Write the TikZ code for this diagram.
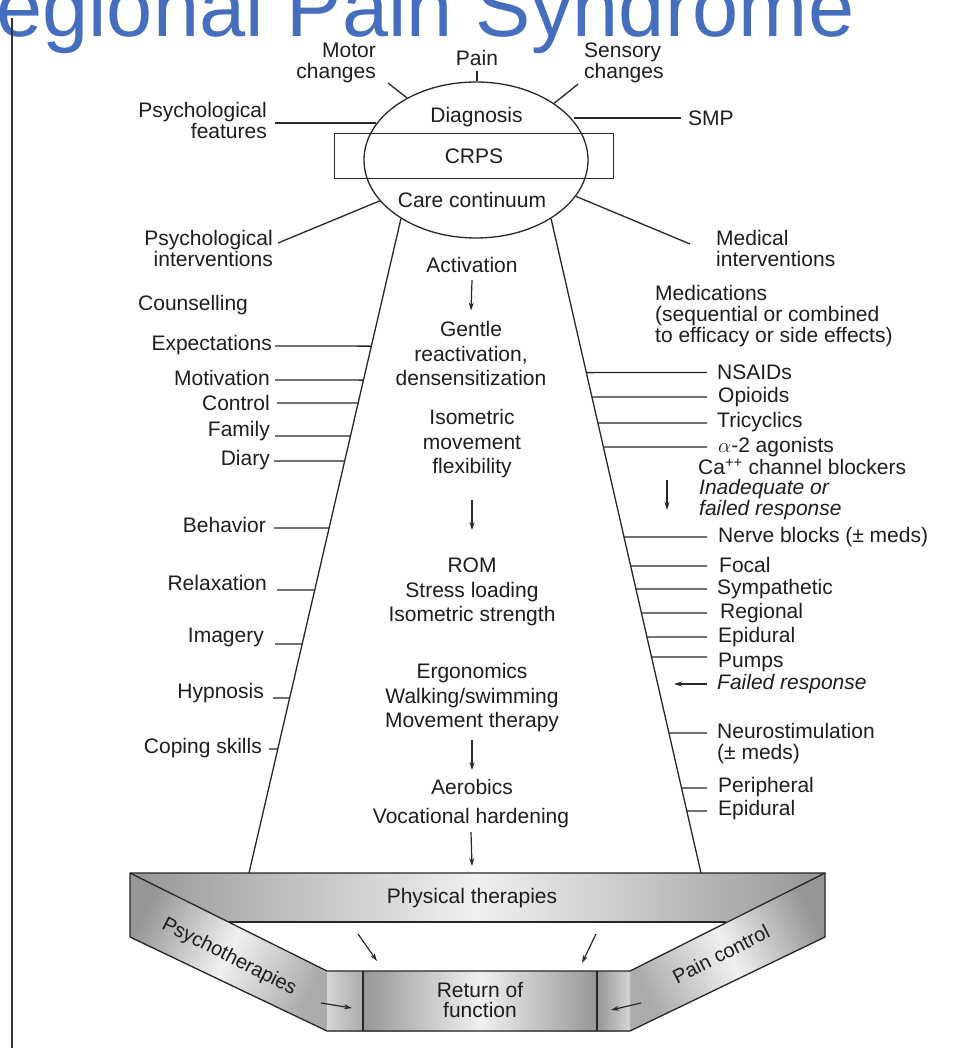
\documentclass[tikz,border=0pt]{standalone}
\usepackage{fontspec}
\setmainfont{Liberation Sans}
\usetikzlibrary{calc,shapes.geometric,arrows.meta}
\definecolor{txt}{RGB}{30,30,30}
\definecolor{ln}{RGB}{40,40,40}
\definecolor{titleblue}{RGB}{70,110,190}
\definecolor{bandD}{RGB}{150,150,150}
\definecolor{bandL}{RGB}{240,240,240}
\begin{document}
\begin{tikzpicture}[x=1pt,y=-1pt,
  lbl/.style={inner sep=0pt, text=txt, font=\fontsize{21}{21}\selectfont},
  lblL/.style={lbl, align=left},
  lblR/.style={lbl, align=right},
  ctr/.style={lbl, align=center, font=\fontsize{21}{24.5}\selectfont},
  tick/.style={draw=ln, line width=1.3pt},
  arr/.style={draw=ln, line width=1.2pt, -{Stealth[length=8pt,width=5pt]}},
  edge/.style={draw=black!85, line width=1.3pt, line join=round}]
\useasboundingbox (0,0) rectangle (979,1048);
\clip (0,0) rectangle (979,1048);
\fill[white] (0,0) rectangle (979,1048);

% title (cropped)
\node[anchor=base west, inner sep=0pt, text=titleblue, font=\fontsize{83}{83}\selectfont] (title) at (-4,37) {egional Pain Syndrome};
\coordinate (vtop) at (12,18);
\coordinate (vbot) at (12,1048);
\draw[line width=2pt, draw=black!80] (vtop) -- (vbot);

% ellipse and CRPS box
\node[ellipse, draw=ln, line width=1.3pt, minimum width=224pt, minimum height=156pt, inner sep=0pt] (ell) at (476,160) {};
\node[lbl, draw=ln, line width=1.3pt, minimum width=279pt, minimum height=45pt] (crps) at (474,156) {CRPS};
\node[lbl] (diag) at (476.5,117) {Diagnosis};
\node[lbl] (care) at (472,200) {Care continuum};

% top labels
\node[lblR, anchor=east] (motor) at (376,63) {Motor\\changes};
\node[lbl] (pain) at (477,58) {Pain};
\node[lblL, anchor=west] (sens) at (584,63) {Sensory\\changes};
\node[lblR, anchor=east] (pf) at (267,120) {Psychological\\features};
\node[lbl, anchor=west] (smp) at (688,118) {SMP};
\node[lblR, anchor=east] (pi) at (273,248) {Psychological\\interventions};
\node[lblL, anchor=west] (mi) at (716,248) {Medical\\interventions};
\node[lbl, anchor=west] (couns) at (138,305) {Counselling};
\node[lblL, anchor=west] (med) at (655,316) {Medications\\(sequential or combined\\to efficacy or side effects)};

\draw[tick] ($(motor.south east)+(12,0)$) -- (ell.138);
\draw[tick] ($(pain.south)+(0,5)$) -- (pain.south |- ell.north);
\draw[tick] ($(sens.south west)+(-6,1)$) -- (ell.36);
\coordinate (pfs) at ($(pf.east)+(8,3)$);
\draw[tick] (pfs) -- (pfs -| ell.160);
\coordinate (smps) at ($(smp.west)+(-7,0)$);
\draw[tick] (smps) -- (smps -| ell.22);
\draw[tick] ($(pi.east)+(5,-5)$) -- (ell.203);
\draw[tick] (ell.-20) -- ($(mi.west)+(-26,-4)$);

% sides of the funnel
\coordinate (BL) at (249,873);
\coordinate (BR) at (701,873);
\coordinate (TL) at (ell.218);
\coordinate (TR) at (ell.-38);
\draw[tick] (TL) -- (BL);
\draw[tick] (TR) -- (BR);

% left labels
\foreach \n/\t/\tx/\ty/\lx/\ly in {
  exp/Expectations/272/345/275/346,
  mot/Motivation/270/378/275/380,
  con/Control/270/403/277/403,
  fam/Family/270/431/275/436,
  dia/Diary/270/460/274/461,
  beh/Behavior/266/525/274/528,
  rel/Relaxation/267/583/277/590,
  ima/Imagery/264/637/275/644,
  hyp/Hypnosis/264/693/273/698,
  cop/Coping skills/262/748/269/749}{
  \node[lbl, anchor=east] (\n) at (\tx,\ty) {\t};
  \draw[tick] ($(\n.east)+(\lx-\tx,\ly-\ty)$) -- ($(TL)!{(\ly-218.5)/654.5}!(BL)$);
}

% right labels
\foreach \n/\t/\tx/\ty/\ly in {
  nsa/NSAIDs/717/372/372.5,
  opi/Opioids/718/397/397,
  tri/Tricyclics/717/422/423,
  alp/{$\alpha$-2 agonists}/718/447/447,
  ner/Nerve blocks (± meds)/718/537/537,
  foc/Focal/719/565/566,
  sym/Sympathetic/717/589/589,
  reg/Regional/720/613/613,
  epi/Epidural/718/637/637,
  pum/Pumps/718/662/657,
  per/Peripheral/718/787/788,
  epd/Epidural/718/810/811}{
  \node[lbl, anchor=west] (\n) at (\tx,\ty) {\t};
  \draw[tick] ($(TR)!{(\ly-218.5)/654.5}!(BR)$) -- ($(\n.west)+(707-\tx,\ly-\ty)$);
}
\node[lbl, anchor=west] (ca) at (698,467) {Ca\textsuperscript{++} channel blockers};
\node[lblL, anchor=west, font=\fontsize{21}{21}\selectfont\itshape] (inad) at (699,500) {Inadequate or\\failed response};
\draw[arr] ($(inad.west)+(-32,-20)$) -- ($(inad.west)+(-32,10)$);
\node[lbl, anchor=west, font=\fontsize{21}{21}\selectfont\itshape] (fail) at (717,684) {Failed response};
\draw[arr] ($(fail.west)+(-10,0)$) -- ($(fail.west)+(-43,0)$);
\node[lblL, anchor=west] (neuro) at (717,744) {Neurostimulation\\(± meds)};
\draw[tick] ($(TR)!{(733-218.5)/654.5}!(BR)$) -- ($(neuro.west)+(-10,-11)$);

% centre column
\node[ctr] (act) at (472,265) {Activation};
\node[ctr] (gen) at (471,353.5) {Gentle\\reactivation,\\densensitization};
\node[ctr] (iso) at (472,444) {Isometric\\movement\\flexibility};
\node[ctr] (rom) at (472,592) {ROM\\Stress loading\\Isometric strength};
\node[ctr] (erg) at (472,698) {Ergonomics\\Walking/swimming\\Movement therapy};
\node[ctr] (aer) at (472,787) {Aerobics};
\node[ctr] (voc) at (471,818) {Vocational hardening};

% bottom band
\coordinate (b1) at (130,873);
\coordinate (b2) at (825,873);
\coordinate (b3) at (726,922);
\coordinate (b4) at (229,922);
\coordinate (a1) at (327,971);
\coordinate (a2) at (327,1031);
\coordinate (a3) at (130,937);
\coordinate (c1) at (825,937);
\coordinate (c2) at (630,1031);
\coordinate (c3) at (630,971);
\coordinate (r1) at (363,971);
\coordinate (r2) at (597,971);
\coordinate (r3) at (597,1031);
\coordinate (r4) at (363,1031);
\shade[left color=bandD, right color=bandD, middle color=bandL] (b1) -- (b2) -- (b3) -- (b4) -- cycle;
\shade[left color=bandD, right color=bandD!80, middle color=bandL, shading angle=63] (b1) -- (a1) -- (a2) -- (a3) -- cycle;
\shade[left color=bandD!80, right color=bandD, middle color=bandL, shading angle=117] (b2) -- (c1) -- (c2) -- (c3) -- cycle;
\shade[left color=bandL!70!bandD, right color=bandD!80] (a1) -- (r1) -- (r4) -- (a2) -- cycle;
\shade[left color=bandD, right color=bandL!70!bandD] (r2) -- (c3) -- (c2) -- (r3) -- cycle;
\shade[left color=bandD, right color=bandD, middle color=bandL] (r1) -- (r2) -- (r3) -- (r4) -- cycle;
\draw[edge] (b1) -- (b2) -- (c1) -- (c2) -- (a2) -- (a3) -- cycle;
\draw[edge] (b1) -- (a1) -- (c3) -- (b2);
\draw[edge] (b4) -- (b3);
\draw[edge] (r1) -- (r4);
\draw[edge] (r2) -- (r3);

\node[lbl] (phys) at (472,898) {Physical therapies};
\node[lbl, align=center, font=\fontsize{21}{20}\selectfont] (ret) at (480,1000) {Return of\\function};
\node[lbl, rotate=-27, font=\fontsize{20}{20}\selectfont] (psy) at (229,957) {Psychotherapies};
\node[lbl, rotate=27, font=\fontsize{20}{20}\selectfont] (pc) at (721,954) {Pain control};

% centre arrows
\draw[arr] ($(act)+(0,15)$) -- ($(gen)+(0,-43)$);
\draw[arr] ($(iso)+(0,56)$) -- ($(rom)+(0,-62)$);
\draw[arr] ($(erg)+(0,42)$) -- ($(aer)+(0,-17)$);
\draw[arr] ($(voc)+(0,14)$) -- ($(phys)+(0,-32)$);
% band arrows
\draw[arr] ($(phys)+(-114,36)$) -- ($(ret)+(-103,-39)$);
\draw[arr] ($(phys)+(124,36)$) -- ($(ret)+(102,-37)$);
\draw[arr] ($(psy)+(92,46)$) -- ($(ret)+(-128,8)$);
\draw[arr] ($(pc)+(-80,49)$) -- ($(ret)+(131,10)$);
\end{tikzpicture}
\end{document}
